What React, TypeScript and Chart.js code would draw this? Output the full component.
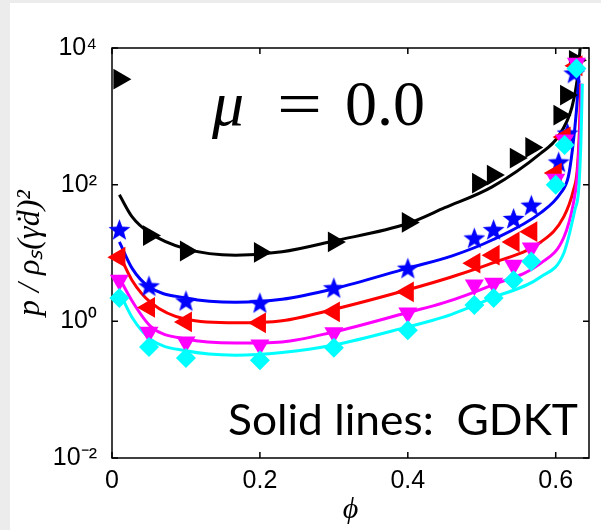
import React, { useEffect, useRef } from 'react';
import { Chart, registerables } from 'chart.js';

Chart.register(...registerables);

// Axis ticks
const X_TICKS = [0, 0.2, 0.4, 0.6];
const Y_TICKS = [0.01, 1, 100, 10000];
const Y_TICK_LABELS = ['10⁻²', '10⁰', '10²', '10⁴'];

// Simulation markers
const PHI_BLACK = [0.01, 0.05, 0.1, 0.2, 0.3, 0.4, 0.495, 0.515, 0.546, 0.567, 0.605, 0.614, 0.626];
const VAL_BLACK = [3500, 18, 10.7, 10.2, 14.5, 28, 105, 138, 245, 350, 1040, 2050, 6600];

const PHI_BLUE = [0.01, 0.05, 0.1, 0.2, 0.3, 0.4, 0.49, 0.516, 0.543, 0.567, 0.604, 0.616, 0.625];
const VAL_BLUE = [22, 3.3, 2.0, 1.87, 3.1, 6.0, 16.6, 22, 32, 50, 215, 570, 4300];

const PHI_RED = [0.01, 0.05, 0.1, 0.2, 0.3, 0.4, 0.49, 0.516, 0.543, 0.567, 0.6, 0.612, 0.628];
const VAL_RED = [8.7, 1.6, 0.98, 0.95, 1.38, 2.7, 7.1, 9.3, 14.5, 20.5, 148, 500, 5500];

const PHI_MAGENTA = [0.01, 0.05, 0.1, 0.2, 0.3, 0.4, 0.49, 0.516, 0.543, 0.567, 0.6, 0.612, 0.628];
const VAL_MAGENTA = [4, 0.69, 0.5, 0.45, 0.68, 1.32, 3.4, 3.6, 6.6, 11.8, 120, 450, 6000];

const PHI_CYAN = [0.01, 0.05, 0.1, 0.2, 0.3, 0.4, 0.49, 0.516, 0.543, 0.567, 0.6, 0.612, 0.628];
const VAL_CYAN = [2.2, 0.42, 0.29, 0.27, 0.41, 0.74, 1.74, 2.2, 4, 7.5, 100, 380, 5000];

// GDKT solid lines
const LPHI_BLACK = [0.01, 0.027, 0.05, 0.1, 0.167, 0.23, 0.3, 0.4, 0.45, 0.514, 0.58, 0.603, 0.622, 0.629, 0.633];
const LVAL_BLACK = [71, 34, 20, 11.5, 9.3, 10.4, 15, 27, 46, 93, 290, 500, 1370, 3400, 10000];

const LPHI_BLUE = [0.01, 0.027, 0.05, 0.1, 0.167, 0.23, 0.3, 0.4, 0.46, 0.514, 0.58, 0.607, 0.617, 0.6225, 0.628, 0.632];
const LVAL_BLUE = [14.5, 6, 3.2, 2.2, 1.9, 2.1, 3.0, 6.0, 9.1, 15.5, 39, 76, 130, 320, 1200, 5000];

const LPHI_RED = [0.01, 0.027, 0.053, 0.1, 0.167, 0.23, 0.3, 0.4, 0.46, 0.514, 0.58, 0.611, 0.624, 0.629, 0.632, 0.634];
const LVAL_RED = [9.5, 4, 1.86, 1.07, 0.95, 1.02, 1.5, 2.9, 4.5, 7.1, 14.5, 34, 83, 160, 600, 3000];

const LPHI_MAGENTA = [0.01, 0.027, 0.053, 0.1, 0.167, 0.23, 0.3, 0.4, 0.448, 0.514, 0.58, 0.611, 0.624, 0.629, 0.633, 0.635];
const LVAL_MAGENTA = [4.3, 2.0, 0.83, 0.55, 0.48, 0.5, 0.7, 1.35, 1.86, 3.4, 7.1, 17, 54, 130, 700, 3000];

const LPHI_CYAN = [0.01, 0.027, 0.053, 0.1, 0.167, 0.23, 0.3, 0.4, 0.448, 0.514, 0.58, 0.611, 0.626, 0.631, 0.634, 0.636];
const LVAL_CYAN = [2.7, 1.15, 0.54, 0.37, 0.32, 0.35, 0.45, 0.83, 1.15, 2.2, 4.5, 10, 43, 83, 400, 3000];

const pts = (xs: number[], ys: number[]) => xs.map((x, i) => ({ x, y: ys[i] }));

function makeStar(color: string, R: number, r: number) {
  const size = Math.ceil(2 * R + 2);
  const c = document.createElement('canvas');
  c.width = size;
  c.height = size;
  const g = c.getContext('2d')!;
  g.fillStyle = color;
  g.beginPath();
  for (let i = 0; i < 10; i++) {
    const rad = i % 2 === 0 ? R : r;
    const ang = -Math.PI / 2 + (i * Math.PI) / 5;
    const px = size / 2 + rad * Math.cos(ang);
    const py = size / 2 + 1 + rad * Math.sin(ang);
    if (i === 0) g.moveTo(px, py);
    else g.lineTo(px, py);
  }
  g.closePath();
  g.fill();
  return c;
}

const decorPlugin = {
  id: 'decor',
  beforeDatasetsDraw(chart: any) {
    const { ctx, chartArea: a, scales } = chart;
    ctx.save();
    ctx.strokeStyle = '#000';
    ctx.lineWidth = 1.5;
    ctx.strokeRect(a.left, a.top, a.right - a.left, a.bottom - a.top);
    ctx.beginPath();
    const tl = 6;
    for (const v of X_TICKS) {
      const px = scales.x.getPixelForValue(v);
      ctx.moveTo(px, a.bottom);
      ctx.lineTo(px, a.bottom - tl);
      ctx.moveTo(px, a.top);
      ctx.lineTo(px, a.top + tl);
    }
    for (const v of Y_TICKS) {
      const py = scales.y.getPixelForValue(v);
      ctx.moveTo(a.left, py);
      ctx.lineTo(a.left + tl, py);
      ctx.moveTo(a.right, py);
      ctx.lineTo(a.right - tl, py);
    }
    ctx.stroke();

    // mu label
    ctx.fillStyle = '#000';
    ctx.textBaseline = 'alphabetic';
    ctx.textAlign = 'left';
    const base = a.top + 77;
    ctx.font = 'italic 64px "Liberation Serif"';
    ctx.fillText('μ', a.left + 100, base);
    ctx.font = '64px "Liberation Serif"';
    const eqW = ctx.measureText('=').width;
    ctx.save();
    ctx.translate(a.left + 165, base);
    ctx.scale(45 / eqW, 1);
    ctx.fillText('=', 0, 0);
    ctx.restore();
    ctx.fillText('0.0', a.left + 233, base);

    // Solid lines label
    ctx.font = '42px Lato';
    const txt = 'Solid lines:  GDKT';
    const w = ctx.measureText(txt).width;
    ctx.save();
    ctx.translate(a.left + 116, a.bottom - 23);
    ctx.scale(350 / w, 1);
    ctx.fillText(txt, 0, 0);
    ctx.restore();
    ctx.restore();
  },
};

export default function App() {
  const ref = useRef<HTMLCanvasElement | null>(null);

  useEffect(() => {
    if (!ref.current) return;
    const star = makeStar('#0000ff', 11.5, 4.8);
    const line = (xs: number[], ys: number[], color: string) => ({
      type: 'line' as const,
      data: pts(xs, ys),
      borderColor: color,
      borderWidth: 3,
      pointRadius: 0,
      cubicInterpolationMode: 'monotone' as const,
      fill: false,
      order: 2,
    });
    const marks = (xs: number[], ys: number[], color: string, style: any, radius: number, rotation: number) => ({
      type: 'scatter' as const,
      data: pts(xs, ys),
      pointStyle: style,
      pointRadius: radius,
      pointRotation: rotation,
      pointBackgroundColor: color,
      pointBorderColor: color,
      pointBorderWidth: 0,
      backgroundColor: color,
      borderColor: color,
      showLine: false,
      clip: false,
      order: 1,
    });

    const chart = new Chart(ref.current, {
      type: 'scatter',
      data: {
        datasets: [
          line(LPHI_CYAN, LVAL_CYAN, '#00ffff'),
          line(LPHI_MAGENTA, LVAL_MAGENTA, '#ff00ff'),
          line(LPHI_RED, LVAL_RED, '#ff0000'),
          line(LPHI_BLUE, LVAL_BLUE, '#0000ff'),
          line(LPHI_BLACK, LVAL_BLACK, '#000000'),
          marks(PHI_CYAN, VAL_CYAN, '#00ffff', 'rectRot', 10, 0),
          marks(PHI_MAGENTA, VAL_MAGENTA, '#ff00ff', 'triangle', 11, 180),
          marks(PHI_RED, VAL_RED, '#ff0000', 'triangle', 12, 270),
          marks(PHI_BLUE, VAL_BLUE, '#0000ff', star, 11, 0),
          marks(PHI_BLACK, VAL_BLACK, '#000000', 'triangle', 12, 90),
        ] as any,
      },
      options: {
        animation: false,
        responsive: false,
        devicePixelRatio: 1,
        layout: { padding: { left: 10, top: 48, right: 3, bottom: 0 } },
        plugins: { legend: { display: false }, tooltip: { enabled: false } },
        scales: {
          x: {
            type: 'linear',
            min: 0,
            max: 0.645,
            afterBuildTicks: (s: any) => {
              s.ticks = X_TICKS.map((v) => ({ value: v }));
            },
            afterFit: (s: any) => {
              s.height = 72;
            },
            grid: { display: false, drawTicks: false },
            border: { display: false },
            ticks: {
              color: '#000',
              padding: 8,
              font: { family: '"Liberation Sans"', size: 25 },
              callback: (v: any) => String(v),
            },
            title: {
              display: true,
              text: 'ϕ',
              color: '#000',
              font: { family: '"Liberation Serif"', style: 'italic', size: 30 },
              padding: { top: 0, bottom: 2 },
            },
          },
          y: {
            type: 'logarithmic',
            min: 0.01,
            max: 10000,
            afterBuildTicks: (s: any) => {
              s.ticks = Y_TICKS.map((v) => ({ value: v }));
            },
            afterFit: (s: any) => {
              s.width = 102;
            },
            grid: { display: false, drawTicks: false },
            border: { display: false },
            ticks: {
              color: '#000',
              padding: 15,
              font: { family: '"Liberation Sans"', size: 25 },
              callback: (v: any) => {
                let best = 0;
                Y_TICKS.forEach((t, i) => {
                  if (Math.abs(Math.log10(t) - Math.log10(v)) < Math.abs(Math.log10(Y_TICKS[best]) - Math.log10(v))) best = i;
                });
                return Y_TICK_LABELS[best];
              },
            },
            title: {
              display: true,
              text: 'p / ρₛ(γ̇d)²',
              color: '#000',
              font: { family: '"Liberation Serif"', style: 'italic', size: 32 },
              padding: { top: 1, bottom: 0 },
            },
          },
        },
      },
      plugins: [decorPlugin],
    } as any);
    return () => chart.destroy();
  }, []);

  return (
    <div style={{ position: 'absolute', left: 0, top: 0, width: 601, height: 530, background: '#ececec' }}>
      <div style={{ position: 'absolute', left: 10, top: 3, width: 591, height: 527, background: '#ffffff' }} />
      <canvas ref={ref} width={601} height={530} style={{ position: 'absolute', left: 0, top: 0, width: 601, height: 530 }} />
    </div>
  );
}
